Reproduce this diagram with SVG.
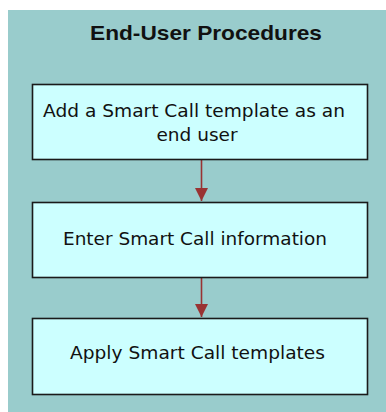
<svg xmlns="http://www.w3.org/2000/svg" width="386" height="412" viewBox="0 0 386 412">
<style>
.panel{fill:#99cccc}
.box{fill:#ccffff;stroke:#1a1a1a;stroke-width:1.6}
.t{font-family:"DejaVu Sans",Verdana,sans-serif;font-size:18.5px;fill:#111;text-anchor:middle}
.title{font-family:"Liberation Sans",Arial,sans-serif;font-weight:bold;font-size:21px;fill:#111;text-anchor:middle}
.conn{stroke:#993333;stroke-width:1.6;fill:none}
</style>
<defs>
<marker id="ah" markerUnits="userSpaceOnUse" markerWidth="14" markerHeight="14" viewBox="0 0 14 14" refX="13" refY="7" orient="auto">
<path d="M0,0.5 L13,7 L0,13.5 Z" fill="#993333"/>
</marker>
</defs>
<rect width="386" height="412" fill="#ffffff"/>
<g id="panel">
<rect class="panel" x="8" y="10" width="378" height="402"/>
<text class="title" x="206" y="40" textLength="232" lengthAdjust="spacingAndGlyphs">End-User Procedures</text>
</g>
<g id="connectors">
<path class="conn" d="M201.5,160 V201" marker-end="url(#ah)"/>
<path class="conn" d="M201.5,278 V317" marker-end="url(#ah)"/>
</g>
<g id="node1">
<rect class="box" x="32.5" y="84.5" width="335" height="75"/>
<text class="t" x="194" y="117" textLength="302" lengthAdjust="spacingAndGlyphs">Add a Smart Call template as an</text>
<text class="t" x="197" y="141">end user</text>
</g>
<g id="node2">
<rect class="box" x="32.5" y="202.5" width="335" height="75"/>
<text class="t" x="195" y="245" textLength="264" lengthAdjust="spacingAndGlyphs">Enter Smart Call information</text>
</g>
<g id="node3">
<rect class="box" x="32.5" y="318.5" width="335" height="76"/>
<text class="t" x="197.5" y="359" textLength="255" lengthAdjust="spacingAndGlyphs">Apply Smart Call templates</text>
</g>
</svg>
